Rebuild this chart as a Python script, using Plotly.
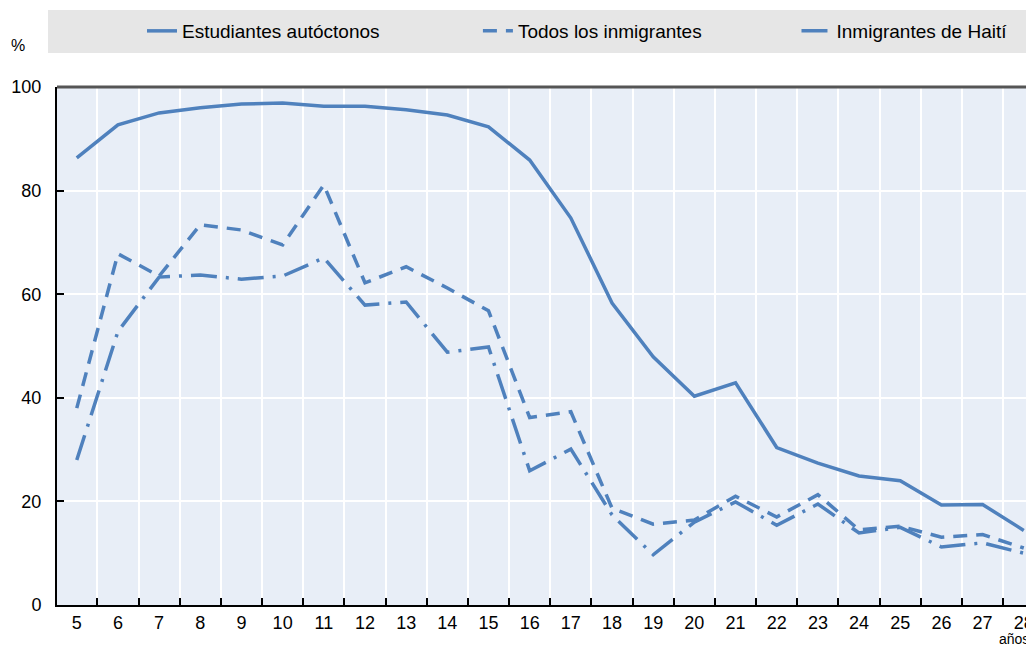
import plotly.graph_objects as go

# edades (años)
edades = list(range(5, 29))

# % por grupo
autoctonos = [86.3, 92.7, 95.0, 96.0, 96.7, 96.9, 96.3, 96.3, 95.6, 94.6, 92.3, 85.9,
              74.7, 58.3, 47.9, 40.3, 42.9, 30.4, 27.4, 24.9, 24.0, 19.3, 19.4, 14.4]
todos_inmigrantes = [38.0, 67.8, 63.5, 73.4, 72.4, 69.5, 81.1, 62.2, 65.3, 61.2, 56.8, 36.2,
                     37.3, 18.7, 15.6, 16.4, 21.0, 17.0, 21.3, 14.5, 15.2, 13.1, 13.6, 11.0]
inmigrantes_haiti = [28.0, 52.8, 63.3, 63.7, 62.9, 63.5, 67.0, 57.9, 58.5, 48.8, 49.8, 25.9,
                     30.1, 17.4, 9.7, 16.0, 19.9, 15.4, 19.5, 13.9, 15.0, 11.2, 12.0, 10.0]

series = [
    ('Estudiantes autóctonos', autoctonos, 'solid', 'legend', 0.1306),
    ('Todos los inmigrantes', todos_inmigrantes, '14px,9px', 'legend2', 0.458),
    ('Inmigrantes de Haití', inmigrantes_haiti, '26px,9px,3px,9px', 'legend3', 0.7685),
]

LINE = 'rgb(79,129,189)'
FONT = 'Liberation Sans, Arial'

# la página tiene 8px de margen en body: la figura se reduce para caber
W, H = 1026, 639

fig = go.Figure()
for name, vals, dash, leg, _ in series:
    fig.add_trace(go.Scatter(
        x=edades, y=vals, mode='lines', name=name, legend=leg,
        line=dict(color=LINE, width=3.5, dash=dash)
    ))

legends = {}
for name, vals, dash, leg, lx in series:
    legends[leg] = dict(
        xref='container', yref='container', x=lx, xanchor='left',
        y=1 - 23 / H, yanchor='middle', orientation='h',
        bgcolor='rgba(0,0,0,0)', font=dict(family=FONT, size=19)
    )

fig.update_layout(
    width=W, height=H,
    margin=dict(l=49, r=0, t=79, b=42),
    paper_bgcolor='white',
    plot_bgcolor='#e8eef7',
    font=dict(family=FONT, size=19, color='black'),
    showlegend=True,
    xaxis=dict(
        range=[4.52, 28.2], tickvals=edades, ticktext=[str(e) for e in edades],
        showgrid=False, zeroline=False, ticks='', ticklabeloverflow='allow',
        showline=True, linecolor='black', linewidth=2,
        minor=dict(tickvals=[e + 0.5 for e in range(4, 28)], showgrid=True,
                   gridcolor='white', gridwidth=1.5, ticks='inside',
                   ticklen=7, tickcolor='black', tickwidth=1.5),
        tickfont=dict(size=18)
    ),
    yaxis=dict(
        range=[0, 100], tickvals=[0, 20, 40, 60, 80, 100],
        showgrid=True, gridcolor='white', gridwidth=1.5, zeroline=False,
        showline=True, linecolor='black', linewidth=2,
        ticks='inside', ticklen=7, tickcolor='black', tickwidth=1.5,
        ticklabelstandoff=10, tickfont=dict(size=18)
    ),
    shapes=[
        dict(type='rect', xref='paper', yref='paper', x0=-0.0092, x1=1.0,
             y0=1.0656, y1=1.1486, fillcolor='#e6e6e6', line=dict(width=0),
             layer='below'),
        dict(type='line', xref='paper', yref='paper', x0=0, x1=1, y0=1, y1=1,
             line=dict(color='#555555', width=3)),
    ],
    annotations=[
        dict(text='%', xref='paper', yref='paper', x=-0.04, y=1.081,
             xanchor='center', yanchor='middle',
             showarrow=False, font=dict(size=16)),
        dict(text='años', xref='paper', yref='paper', x=0.9816, y=-0.0656,
             xanchor='center', yanchor='middle',
             showarrow=False, font=dict(size=14)),
    ]
)
fig.update_layout(**legends)

fig.write_html('out.html')
